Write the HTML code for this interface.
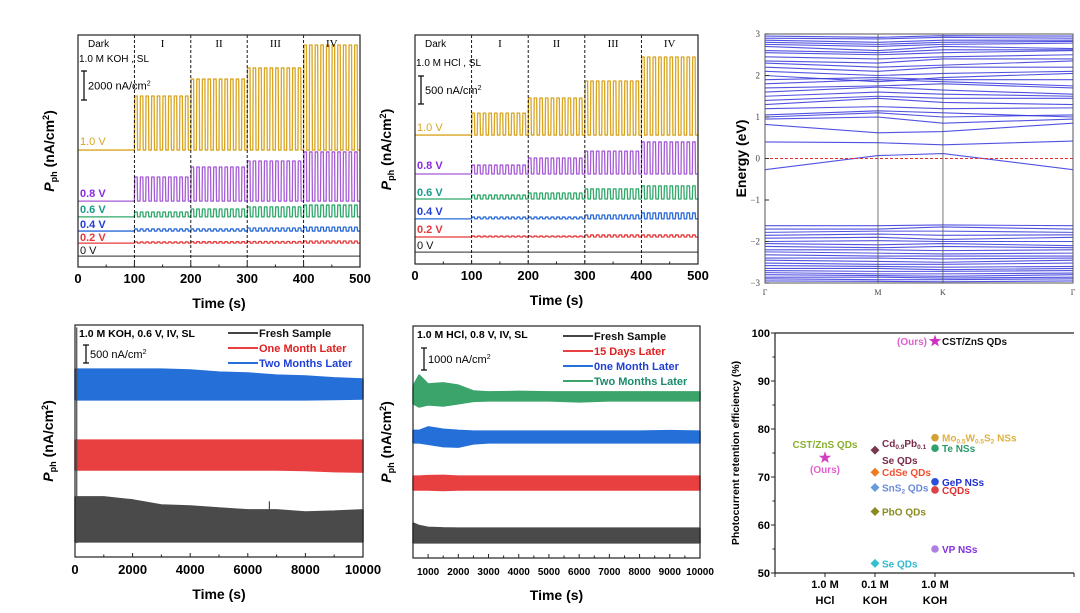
<!DOCTYPE html>
<html><head><meta charset="utf-8"><style>
html,body{margin:0;padding:0;background:#fff;}
svg{display:block;font-family:"Liberation Sans",Arial,sans-serif;}
</style></head><body>
<svg id="fig" width="1080" height="613" viewBox="0 0 1080 613" xmlns="http://www.w3.org/2000/svg"></svg>
<script>
// ===== Panel A data (1.0 M KOH) =====
const aLabels=['1.0 V','0.8 V','0.6 V','0.4 V','0.2 V','0 V'];
const aBase=[50.4,28.4,21.6,15.5,10.3,4.7];
const aTops=[[73.7,81.0,85.8,95.7],[38.8,43.1,45.7,49.6],[23.7,25.0,25.9,26.7],[16.4,16.4,16.8,17.2],[10.8,10.9,11.0,11.2],[4.7,4.7,4.7,4.7]];
const aTicks=[0,100,200,300,400,500];
// ===== Panel B data (1.0 M HCl) =====
const bLabels=['1.0 V','0.8 V','0.6 V','0.4 V','0.2 V','0 V'];
const bBase=[56.3,39.3,28.4,19.7,11.8,5.2];
const bTops=[[65.9,72.5,79.9,90.4],[43.2,46.3,49.3,53.3],[30.1,31.0,32.8,34.1],[20.5,20.5,21.4,22.3],[12.2,12.2,12.7,12.7],[5.2,5.2,5.2,5.2]];
const bTicks=[0,100,200,300,400,500];
// ===== Panel C data (band structure) =====
const kTicks=[0,1,1.575,2.726];
const kLabels=['Γ','M','K','Γ'];
const energyTicks=[-3,-2,-1,0,1,2,3];
const bandsSpecial=[[-0.27,0.07,0.12,-0.27],[0.40,0.38,0.33,0.42],[0.82,0.62,0.65,0.85]];
const bandsCond=[[0.95,1.0,0.85,0.95],[1.0,1.1,1.0,1.05],[1.05,1.15,1.1,1.0],[1.2,1.25,1.2,1.22],[1.3,1.45,1.35,1.3],[1.4,1.5,1.45,1.45],[1.5,1.6,1.55,1.5],[1.6,1.72,1.65,1.55],[1.7,1.75,1.8,1.7],[1.8,1.9,1.85,1.75],[1.9,1.95,1.9,1.9],[2.0,1.85,1.95,2.05],[2.1,2.0,2.05,2.1],[2.2,2.1,2.2,2.2],[2.3,2.2,2.25,2.35],[2.35,2.3,2.4,2.4],[2.45,2.4,2.45,2.5],[2.55,2.5,2.55,2.6],[2.6,2.55,2.62,2.62],[2.7,2.6,2.7,2.65],[2.75,2.7,2.75,2.78],[2.8,2.75,2.8,2.82],[2.85,2.8,2.85,2.85],[2.9,2.88,2.92,2.9],[2.95,2.92,2.96,2.95]];
const bandsVal=[[-1.62,-1.62,-1.6,-1.62],[-1.7,-1.7,-1.65,-1.7],[-1.78,-1.75,-1.75,-1.78],[-1.85,-1.82,-1.85,-1.84],[-1.92,-1.9,-1.95,-1.9],[-2.0,-1.98,-2.0,-2.0],[-2.05,-2.08,-2.05,-2.1],[-2.12,-2.15,-2.12,-2.15],[-2.2,-2.2,-2.22,-2.2],[-2.25,-2.28,-2.3,-2.28],[-2.32,-2.35,-2.35,-2.35],[-2.4,-2.4,-2.42,-2.4],[-2.45,-2.48,-2.5,-2.45],[-2.52,-2.55,-2.55,-2.52],[-2.58,-2.6,-2.62,-2.6],[-2.65,-2.65,-2.68,-2.65],[-2.7,-2.72,-2.72,-2.7],[-2.75,-2.78,-2.78,-2.76],[-2.8,-2.82,-2.84,-2.8],[-2.86,-2.86,-2.88,-2.86],[-2.9,-2.92,-2.92,-2.9],[-2.95,-2.96,-2.97,-2.95]];
// ===== Panel D data (KOH stability) =====
const dTimes=[0,1000,2000,3000,4000,5000,6000,7000,8000,9000,10000];
const dBlueTop=[81.0,81.0,81.0,81.0,80.6,79.7,79.3,78.4,78.0,77.2,76.7];
const dBlueBot=[67.7,67.7,67.7,67.7,67.7,67.7,67.7,67.7,67.7,67.9,68.1];
const dRedTop=[50.4,50.4,50.4,50.4,50.4,50.4,50.4,50.4,50.4,50.4,50.4];
const dRedBot=[37.5,37.5,37.5,37.5,37.5,37.5,37.5,37.5,37.3,36.8,36.6];
const dBlackTop=[25.9,25.9,24.6,22.4,22.0,21.1,20.3,20.3,19.4,19.8,20.3];
const dBlackBot=[6.5,6.5,6.5,6.5,6.5,6.5,6.5,6.5,6.5,6.5,6.5];
const dTicks=[0,2000,4000,6000,8000,10000];
const dLegend=['Fresh Sample','One Month Later','Two Months Later'];
// ===== Panel E data (HCl stability) =====
const eTimes=[500,700,1000,1500,2000,2500,3000,4000,5000,6000,7000,8000,9000,10000];
const eGreenTop=[74.0,78.9,75.0,75.5,74.5,72.0,71.6,71.8,71.6,71.6,71.6,71.6,71.6,71.6];
const eGreenBot=[66.5,65.1,66.0,65.5,66.5,67.5,67.7,67.7,67.7,67.3,67.7,67.7,67.7,67.7];
const eBlueTop=[55.0,55.0,56.5,55.5,55.0,54.7,54.7,54.7,54.7,54.7,54.7,54.7,54.9,54.7];
const eBlueBot=[49.6,49.6,49.0,48.0,47.8,49.2,49.6,49.6,49.6,49.6,49.6,49.6,49.6,49.6];
const eRedTop=[35.3,35.3,35.5,35.6,35.3,35.3,35.3,35.3,35.3,35.3,35.3,35.3,35.3,35.3];
const eRedBot=[29.3,29.3,29.3,29.1,29.3,29.3,29.3,29.3,29.3,29.3,29.3,29.3,29.3,29.3];
const eBlackTop=[15.1,14.0,13.2,13.0,12.9,12.9,12.9,12.9,12.9,12.9,12.9,12.9,12.9,12.9];
const eBlackBot=[6.5,6.5,6.5,6.5,6.5,6.5,6.5,6.5,6.5,6.5,6.5,6.5,6.5,6.5];
const eTicks=[1000,2000,3000,4000,5000,6000,7000,8000,9000,10000];
const eLegend=['Fresh Sample','15 Days Later','0ne Month Later','Two Months Later'];
// ===== Panel F data (retention comparison) =====
const fCategories=['1.0 M|HCl','0.1 M|KOH','1.0 M|KOH'];
const fCatPos=[0.5,1.0,1.6];
const fNames=['CST/ZnS QDs (HCl)','Cd0.9Pb0.1Se QDs','CdSe QDs','SnS2 QDs','PbO QDs','Se QDs','Mo0.5W0.5S2 NSs','Te NSs','GeP NSs','CQDs','VP NSs','CST/ZnS QDs (KOH)'];
const fCat=[0,1,1,1,1,1,2,2,2,2,2,2];
const fValues=[74,75.6,71,67.8,62.8,52,78.2,76,69,67.3,55,98.3];
const fTicks=[50,60,70,80,90,100];

const NS='http://www.w3.org/2000/svg';
const svg=document.getElementById('fig');
function mk(tag,attrs,parent){const e=document.createElementNS(NS,tag);for(const k in attrs)e.setAttribute(k,attrs[k]);(parent||svg).appendChild(e);return e;}
function nm(e,n,i){return e;}
function T(x,y,s,attrs,parent){const t=mk('text',Object.assign({x:x,y:y},attrs||{}),parent);t.textContent=s;return t;}
function yTitle(x,y,parent,fs){
  const t=mk('text',{x:0,y:0,transform:`translate(${x},${y}) rotate(-90)`,'text-anchor':'middle','font-size':fs,'font-weight':'bold'},parent);
  const a=mk('tspan',{'font-style':'italic'},t);a.textContent='P';
  const b=mk('tspan',{'font-size':fs*0.65,dy:3},t);b.textContent='ph';
  const c=mk('tspan',{dy:-3},t);c.textContent=' (nA/cm';
  const d=mk('tspan',{'font-size':fs*0.65,dy:-5},t);d.textContent='2';
  const e=mk('tspan',{dy:5},t);e.textContent=')';
  return t;
}
function scaleBar(x,y1,y2,label,parent){
  const g=mk('g',{},parent);
  mk('line',{x1:x,x2:x,y1:y1,y2:y2,stroke:'#000','stroke-width':1.2},g);
  mk('line',{x1:x-3,x2:x+3,y1:y1,y2:y1,stroke:'#000','stroke-width':1.2},g);
  mk('line',{x1:x-3,x2:x+3,y1:y2,y2:y2,stroke:'#000','stroke-width':1.2},g);
  const t=mk('text',{x:x+4,y:(y1+y2)/2+4,'font-size':11},g);
  t.appendChild(document.createTextNode(label));
  const s=mk('tspan',{dy:-4,'font-size':7},t);s.textContent='2';
  return g;
}

function swPanel(P){
  const g=nm(mk('g',{}),P.name,false);
  const X=t=>P.x0+(t/500)*(P.x1-P.x0);
  const Y=u=>P.y1-u*(P.y1-P.y0)/100;
  const colors=['#d9a520','#a65bd6','#2fa86a','#2a6ad8','#e5393a','#555'];
  const lcolors=['#d9a520','#8a2be2','#1a9a8a','#1f3fd6','#e5393a','#111'];
  for(let i=0;i<P.base.length;i++){
    let d=`M${X(0)},${Y(P.base[i])}L${X(100)},${Y(P.base[i])}`;
    for(let p=0;p<4;p++)for(let c=0;c<10;c++){const t0=100+p*100+c*10;
      d+=`L${X(t0+0.6)},${Y(P.tops[i][p])}L${X(t0+5)},${Y(P.tops[i][p])}L${X(t0+5.6)},${Y(P.base[i])}L${X(t0+10)},${Y(P.base[i])}`;}
    const path=mk('path',{d:d,fill:'none',stroke:colors[i],'stroke-width':1.3,'stroke-linejoin':'round'},g);
    
    
    const lt=T(P.x0+2,P.labelY[i],P.labels[i],{'font-size':11,fill:lcolors[i],'font-weight':i>0&&i<5?'bold':'normal'},g);
    
    
  }
  [100,200,300,400].forEach(t=>{const l=mk('line',{x1:X(t),x2:X(t),y1:P.y0,y2:P.y1,stroke:'#000','stroke-width':0.9,'stroke-dasharray':'3,2'},g);
    });
  const fr=mk('rect',{x:P.x0,y:P.y0,width:P.x1-P.x0,height:P.y1-P.y0,fill:'none',stroke:'#222','stroke-width':1.2},g);
  
  for(let t=0;t<=500;t+=50){const L=t%100==0?4:2.5;mk('line',{x1:X(t),x2:X(t),y1:P.y1,y2:P.y1-L,stroke:'#222'},g);}
  P.ticks.forEach(t=>{const tl=T(X(t),P.y1+16,String(t),{'text-anchor':'middle','font-size':13,'font-weight':'bold'},g);
    });
  const xt=T((P.x0+P.x1)/2,P.y1+41,'Time (s)',{'text-anchor':'middle','font-size':14,'font-weight':'bold'},g);
  
  const yt=yTitle(P.x0-24,(P.y0+P.y1)/2,g,14);
  
  const dk=T(P.x0+10,P.y0+12,'Dark',{'font-size':10},g);
  
  ['I','II','III','IV'].forEach((s,k)=>{const r=T(X(150+k*100),P.y0+12,s,{'text-anchor':'middle','font-size':11,'font-family':'Liberation Serif, serif'},g);
    });
  const cond=T(P.x0+1,P.condY,P.cond,{'font-size':10},g);
  
  const sb=scaleBar(P.x0+6,P.sb[0],P.sb[1],P.sbLabel,g);
  
}
swPanel({name:'panel-a-koh-voltage',x0:78,x1:360,y0:35,y1:267,base:aBase,tops:aTops,labels:aLabels,ticks:aTicks,labelY:[145,197,213,228,241,254],cond:'1.0 M KOH , SL',condY:62,sb:[71,100],sbLabel:'2000 nA/cm'});
swPanel({name:'panel-b-hcl-voltage',x0:415,x1:698,y0:35,y1:264,base:bBase,tops:bTops,labels:bLabels,ticks:bTicks,labelY:[131,169,196,215,233,249],cond:'1.0 M HCl , SL',condY:66,sb:[76,104],sbLabel:'500 nA/cm'});

(function(){
  const g=nm(mk('g',{}),'panel-c-band-structure',false);
  const x0=765,x1=1073,y0=34,y1=283;
  const X=k=>x0+k/kTicks[3]*(x1-x0);
  const Y=e=>y1-(e+3)/6*(y1-y0);
  const all=bandsCond.concat(bandsVal).concat(bandsSpecial);
  all.forEach(b=>{const pts=b.map((e,i)=>`${X(kTicks[i])},${Y(e)}`).join(' ');
    const l=mk('polyline',{points:pts,fill:'none',stroke:'#3434dc','stroke-width':1.1,'stroke-opacity':0.85},g);
    });
  const f=mk('line',{x1:x0,x2:x1,y1:Y(0),y2:Y(0),stroke:'#e03030','stroke-width':1,'stroke-dasharray':'3,2'},g);
  
  [1,2].forEach(i=>{const l=mk('line',{x1:X(kTicks[i]),x2:X(kTicks[i]),y1:y0,y2:y1,stroke:'#555','stroke-width':0.8},g);
    });
  const fr=mk('rect',{x:x0,y:y0,width:x1-x0,height:y1-y0,fill:'none',stroke:'#555','stroke-width':1},g);
  
  energyTicks.forEach(e=>{mk('line',{x1:x0,x2:x0+4,y1:Y(e),y2:Y(e),stroke:'#333'},g);
    const t=T(x0-5,Y(e)+3,e<0?'−'+(-e):String(e),{'text-anchor':'end','font-size':9,'font-family':'Liberation Serif, serif',fill:'#444'},g);
    });
  kLabels.forEach((s,i)=>{const t=T(X(kTicks[i]),y1+12,s,{'text-anchor':'middle','font-size':8,'font-family':'Liberation Serif, serif',fill:'#444'},g);
    });
  const yt=T(0,0,'Energy (eV)',{transform:`translate(746,${(y0+y1)/2}) rotate(-90)`,'text-anchor':'middle','font-size':14,'font-weight':'bold'},g);
  
})();

function band(g,X,Y,times,top,bot,color,name){
  let d='M'+times.map((t,i)=>`${X(t)},${Y(top[i])}`).join('L');
  for(let i=times.length-1;i>=0;i--)d+=`L${X(times[i])},${Y(bot[i])}`;
  const p=mk('path',{d:d+'Z',fill:color,stroke:color,'stroke-width':1.5,'stroke-linejoin':'bevel'},g);
  
}
function stabPanel(P){
  const g=nm(mk('g',{}),P.name,false);
  const X=t=>P.x0+(t-P.tmin)/(10000-P.tmin)*(P.x1-P.x0);
  const Y=u=>P.y1-u*(P.y1-P.y0)/100;
  P.series.forEach(s=>band(g,X,Y,P.times,s.top,s.bot,s.color,s.name));
  if(P.extra)P.extra(g,X,Y);
  const fr=mk('rect',{x:P.x0,y:P.y0,width:P.x1-P.x0,height:P.y1-P.y0,fill:'none',stroke:'#222','stroke-width':1.2},g);
  
  for(let t=P.minorStart;t<=10000;t+=P.minor){mk('line',{x1:X(t),x2:X(t),y1:P.y1,y2:P.y1-((t%P.major==0)?4:2.5),stroke:'#222'},g);}
  P.ticks.forEach(t=>{const tl=T(X(t),P.y1+17,String(t),{'text-anchor':'middle','font-size':P.tfs,'font-weight':'bold'},g);
    });
  const xt=T((P.x0+P.x1)/2,P.y1+42,'Time (s)',{'text-anchor':'middle','font-size':14,'font-weight':'bold'},g);
  
  const yt=yTitle(P.x0-22,(P.y0+P.y1)/2,g,14);
  
  const c=T(P.x0+4,P.y0+12,P.cond,{'font-size':10.5,'font-weight':'bold'},g);
  
  const sb=scaleBar(P.x0+11,P.sb[0],P.sb[1],P.sbLabel,g);
  
  P.legend.forEach((s,i)=>{const lg=mk('g',{},g);
    
    mk('line',{x1:P.lx,x2:P.lx+30,y1:P.ly+i*15-4,y2:P.ly+i*15-4,stroke:P.lineColors[i],'stroke-width':2},lg);
    T(P.lx+31,P.ly+i*15,s,{'font-size':11,'font-weight':'bold',fill:P.textColors[i]},lg);});
}
stabPanel({name:'panel-d-koh-stability',x0:75,x1:363,y0:325,y1:557,tmin:0,times:dTimes,
  series:[{top:dBlueTop,bot:dBlueBot,color:'#2470d8',name:'series-two-months'},{top:dRedTop,bot:dRedBot,color:'#e84040',name:'series-one-month'},{top:dBlackTop,bot:dBlackBot,color:'#4a4a4a',name:'series-fresh'}],
  extra:(g,X,Y)=>{const l=mk('line',{x1:X(60),x2:X(60),y1:Y(99),y2:Y(6),stroke:'#4a4a4a','stroke-width':1.2},g);
    
    const s=mk('line',{x1:X(6750),x2:X(6750),y1:Y(24),y2:Y(20),stroke:'#4a4a4a','stroke-width':1.2},g);
    },
  ticks:dTicks,minor:1000,minorStart:0,major:2000,tfs:13,cond:'1.0 M KOH, 0.6 V, IV, SL',sb:[345,363],sbLabel:'500 nA/cm',
  legend:dLegend,lx:228,ly:337,lineColors:['#444','#e84040','#2470d8'],textColors:['#111','#e02020','#1f3fd6']});
stabPanel({name:'panel-e-hcl-stability',x0:413,x1:700,y0:326,y1:558,tmin:500,times:eTimes,
  series:[{top:eGreenTop,bot:eGreenBot,color:'#3aa46a',name:'series-two-months'},{top:eBlueTop,bot:eBlueBot,color:'#2470d8',name:'series-one-month'},{top:eRedTop,bot:eRedBot,color:'#e84040',name:'series-15-days'},{top:eBlackTop,bot:eBlackBot,color:'#4a4a4a',name:'series-fresh'}],
  ticks:eTicks,minor:500,minorStart:500,major:1000,tfs:10,cond:'1.0 M HCl, 0.8 V, IV, SL',sb:[348,370],sbLabel:'1000 nA/cm',
  legend:eLegend,lx:563,ly:340,lineColors:['#444','#e84040','#2470d8','#3aa46a'],textColors:['#111','#e02020','#1f3fd6','#1a8a6a']});

(function(){
  const g=nm(mk('g',{}),'panel-f-retention-comparison',false);
  const x0=775,x1=1074,y0=333,y1=573;
  const X=c=>x0+c*100;
  const Y=v=>y1-(v-50)/50*(y1-y0);
  mk('line',{x1:x0,x2:x0,y1:y0,y2:y1,stroke:'#222','stroke-width':1.2},g);
  mk('line',{x1:x0,x2:x1,y1:y1,y2:y1,stroke:'#222','stroke-width':1.2},g);
  mk('line',{x1:x0,x2:x1,y1:y0,y2:y0,stroke:'#222','stroke-width':1.2},g);
  for(let v=50;v<=100;v+=5){mk('line',{x1:x0,x2:x0-(v%10==0?4:2.5),y1:Y(v),y2:Y(v),stroke:'#222'},g);}
  fTicks.forEach(v=>{const t=T(x0-5,Y(v)+4,String(v),{'text-anchor':'end','font-size':11,'font-weight':'bold'},g);
    });
  [0,2.99].concat(fCatPos).forEach(c=>mk('line',{x1:X(c),x2:X(c),y1:y1,y2:y1+4,stroke:'#222'},g));
  fCategories.forEach((s,i)=>{const p=s.split('|');
    const t=T(X(fCatPos[i]),y1+15,p[0],{'text-anchor':'middle','font-size':11,'font-weight':'bold'},g);
    
    const t2=T(X(fCatPos[i]),y1+31,p[1],{'text-anchor':'middle','font-size':11,'font-weight':'bold'},g);
    });
  const yt=T(0,0,'Photocurrent retention efficiency (%)',{transform:`translate(739,${(y0+y1)/2}) rotate(-90)`,'text-anchor':'middle','font-size':10.5,'font-weight':'bold'},g);
  
  const mcol=['#d040c0','#7a3a4e','#f07a20','#6a9ad8','#8a8a20','#30c0d0','#d4a030','#30a070','#2a50d8','#e04040','#b080e0','#d030c0'];
  const shape=['star','dia','dia','dia','dia','dia','circ','circ','circ','circ','circ','star'];
  const lab=[null,['Cd',{s:'0.9'},'Pb',{s:'0.1'}],['CdSe QDs'],['SnS',{s:'2'},' QDs'],['PbO QDs'],['Se QDs'],['Mo',{s:'0.5'},'W',{s:'0.5'},'S',{s:'2'},' NSs'],['Te NSs'],['GeP NSs'],['CQDs'],['VP NSs'],['CST/ZnS QDs']];
  const ldy=[0,-3,4,4,4,4,4,4,4,4,4,4];
  const lcol=['#8ab030','#7a2a4a','#f05030','#6a8ad8','#8a8a20','#30b8d0','#e0b040','#2a9a6a','#2030d0','#e03030','#8030e0','#111'];
  for(let i=0;i<fValues.length;i++){
    const cx=X(fCatPos[fCat[i]]),cy=Y(fValues[i]);let m;
    if(shape[i]=='star'){const pts=[];for(let k=0;k<10;k++){const r=k%2?2.6:6.5,a=-Math.PI/2+k*Math.PI/5;pts.push(`${cx+r*Math.cos(a)},${cy+r*Math.sin(a)}`);}
      m=mk('polygon',{points:pts.join(' '),fill:mcol[i]},g);}
    else if(shape[i]=='dia'){m=mk('polygon',{points:`${cx},${cy-4.5} ${cx+4.5},${cy} ${cx},${cy+4.5} ${cx-4.5},${cy}`,fill:mcol[i]},g);}
    else {m=mk('circle',{cx:cx,cy:cy,r:3.8,fill:mcol[i]},g);}
    
    
    if(lab[i]){const t=mk('text',{x:cx+7,y:cy+ldy[i],'font-size':10,'font-weight':'bold',fill:lcol[i]},g);
      lab[i].forEach(p=>{if(typeof p=='string')t.appendChild(document.createTextNode(p));else{const s=mk('tspan',{'font-size':6.5,dy:2},t);s.textContent=p.s;const r=mk('tspan',{dy:-2},t);r.textContent='\u200b';}});
      }
  }
  const se=T(X(1.0)+7,Y(75.6)+14,'Se QDs',{'font-size':10,'font-weight':'bold',fill:'#7a2a4a'},g);
  
  const h1=T(X(0.5),Y(74)-10,'CST/ZnS QDs',{'text-anchor':'middle','font-size':10,'font-weight':'bold',fill:'#8ab030'},g);
  
  const h2=T(X(0.5),Y(74)+15,'(Ours)',{'text-anchor':'middle','font-size':10,'font-weight':'bold',fill:'#e060d0'},g);
  
  const o=T(X(1.6)-8,Y(98.3)+4,'(Ours)',{'text-anchor':'end','font-size':10,'font-weight':'bold',fill:'#e060d0'},g);
  
})();
</script>
</body></html>
